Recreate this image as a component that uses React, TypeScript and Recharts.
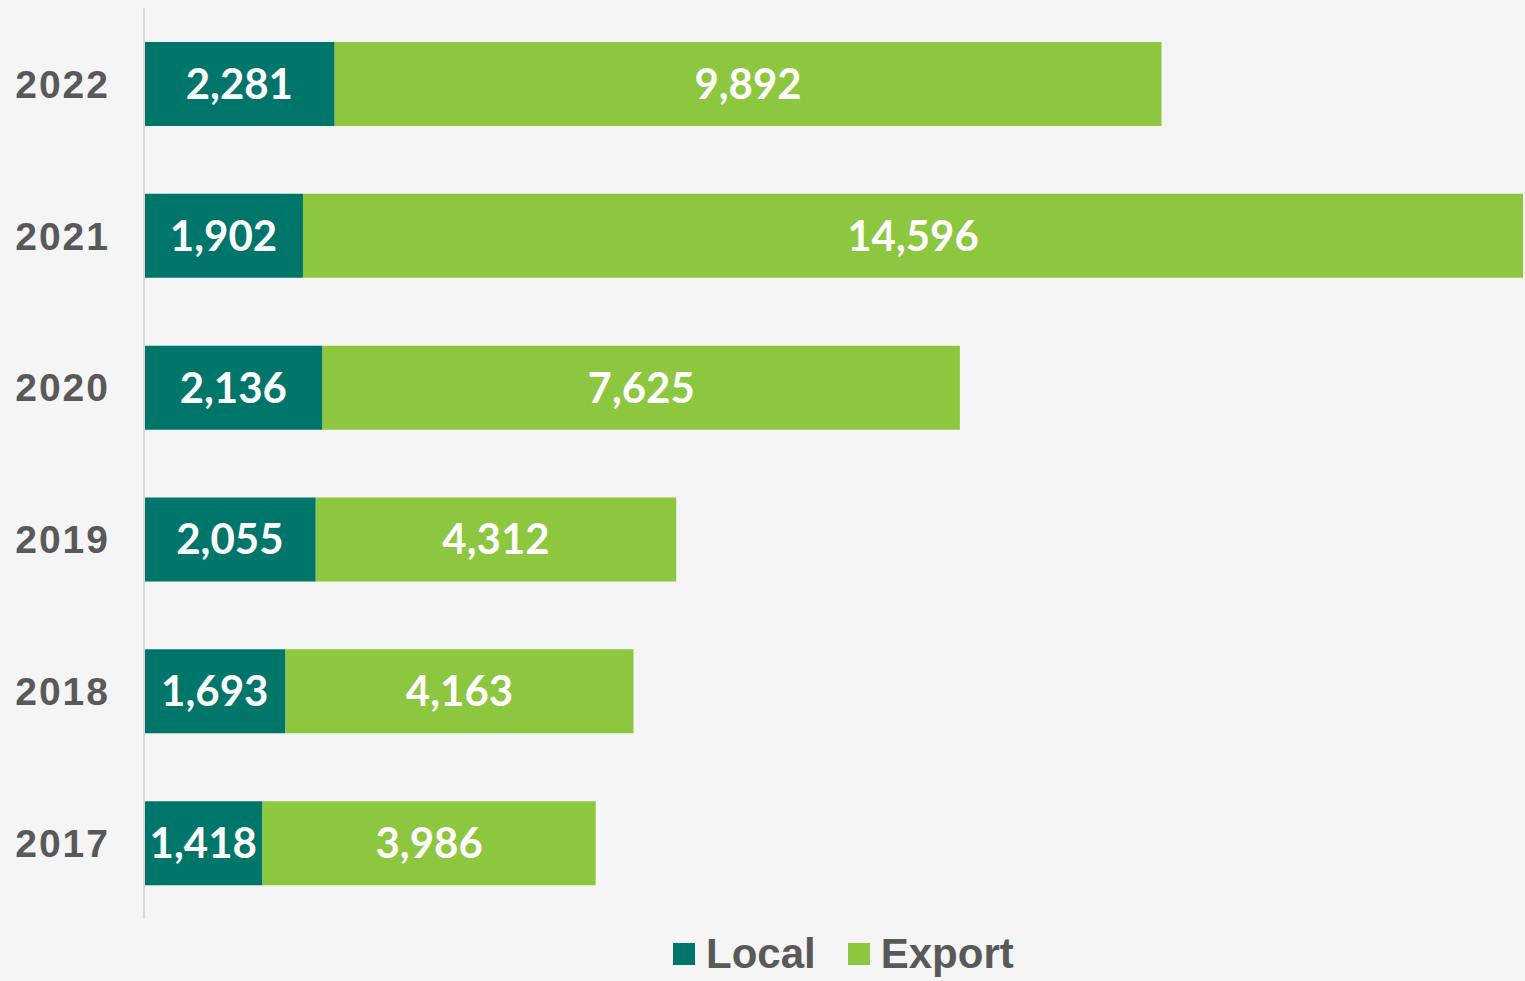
import { Bar, BarChart, LabelList, Legend, XAxis, YAxis } from "recharts";

const years = ["2022", "2021", "2020", "2019", "2018", "2017"];
const localValues = [2281, 1902, 2136, 2055, 1693, 1418];
const exportValues = [9892, 14596, 7625, 4312, 4163, 3986];

const data = years.map((year, i) => ({ year, local: localValues[i], export: exportValues[i] }));

const LOCAL_COLOR = "#00766b";
const EXPORT_COLOR = "#8dc63f";
const TEXT_GREY = "#595959";

const fmt = (v: any) => Number(v).toLocaleString("en-US");

function ChartLegend() {
    const items = [
        { name: "Local", color: LOCAL_COLOR },
        { name: "Export", color: EXPORT_COLOR },
    ];
    return (
        <div style={{ display: "flex", alignItems: "center", paddingLeft: 673, height: 62, paddingTop: 8, boxSizing: "border-box" }}>
            {items.map((it) => (
                <div key={it.name} style={{ display: "flex", alignItems: "center", marginRight: 32 }}>
                    <div style={{ width: 22, height: 22, background: it.color, marginRight: 11 }} />
                    <span style={{ fontFamily: "'Liberation Sans', Arial, sans-serif", fontWeight: 700, fontSize: 42, color: TEXT_GREY, lineHeight: "54px" }}>
                        {it.name}
                    </span>
                </div>
            ))}
        </div>
    );
}

export default function App() {
    return (
        <div style={{ position: "absolute", left: 0, top: 0, width: 1525, height: 981, background: "#f5f5f5" }}>
            <BarChart
                width={1525}
                height={981}
                data={data}
                layout="vertical"
                margin={{ top: 8, right: 2, bottom: 0, left: 0 }}
            >
                <XAxis type="number" hide domain={[0, "dataMax"]} />
                <YAxis
                    dataKey="year"
                    type="category"
                    width={144}
                    tickLine={false}
                    tickSize={0}
                    tickMargin={34}
                    axisLine={{ stroke: "#d9d9d9", strokeWidth: 2 }}
                    tick={{ fill: TEXT_GREY, fontSize: 39, fontWeight: 700, fontFamily: "'Liberation Sans', Arial, sans-serif", letterSpacing: 2 }}
                />
                <Legend verticalAlign="bottom" height={62} content={() => <ChartLegend />} />
                <Bar dataKey="local" stackId="a" fill={LOCAL_COLOR} barSize={84} isAnimationActive={false}>
                    <LabelList dataKey="local" position="center" formatter={fmt} fill="#ffffff" fontSize={42} fontWeight={700} fontFamily="Lato, sans-serif" />
                </Bar>
                <Bar dataKey="export" stackId="a" fill={EXPORT_COLOR} barSize={84} isAnimationActive={false}>
                    <LabelList dataKey="export" position="center" formatter={fmt} fill="#ffffff" fontSize={42} fontWeight={700} fontFamily="Lato, sans-serif" />
                </Bar>
            </BarChart>
        </div>
    );
}
